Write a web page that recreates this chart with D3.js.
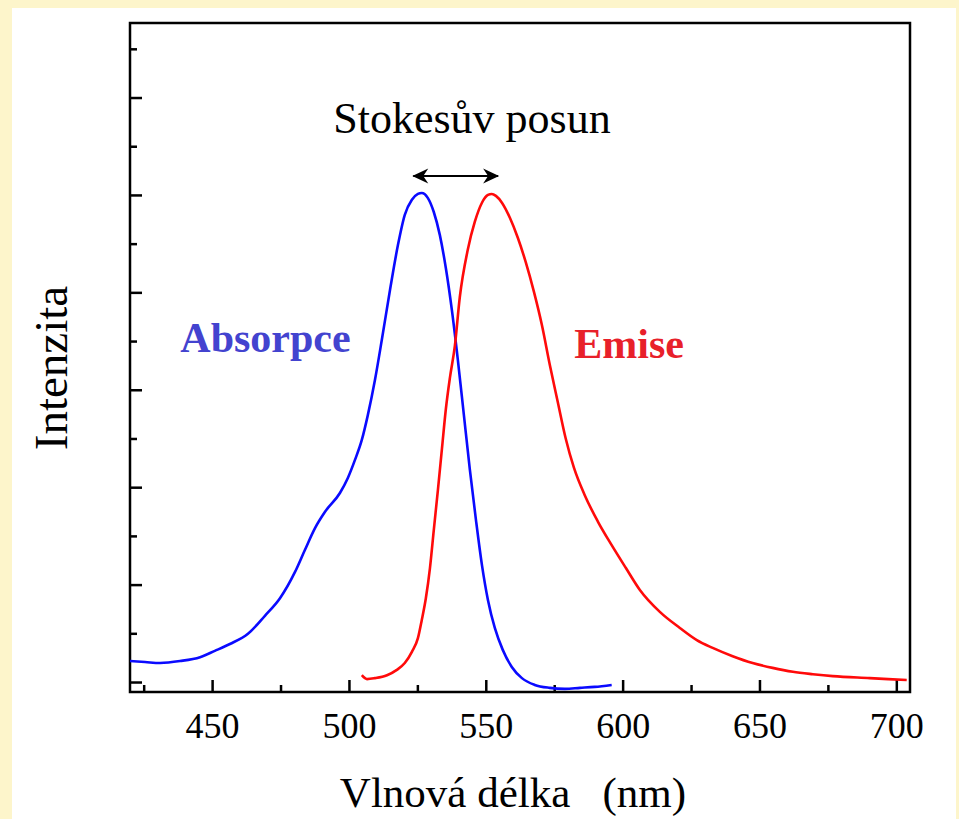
<!DOCTYPE html>
<html>
<head>
<meta charset="utf-8">
<script src="https://cdn.jsdelivr.net/npm/d3@7"></script>
<style>
  html, body { margin: 0; padding: 0; background: #fdf5cb; }
  svg { display: block; }
  text { font-family: "Liberation Serif", "Times New Roman", serif; }
</style>
</head>
<body>
<div id="chart"></div>
<script>
// Absorpční spektrum (vlnová délka nm, relativní intenzita)
var absorpceNm = [420.0, 425.5, 431.0, 438.3, 445.6, 451.0, 456.5, 463.1, 469.3, 474.8, 480.3, 483.9, 487.6, 491.2, 496.7, 499.6, 502.2, 504.7, 506.9, 509.5, 512.0, 515.0, 517.9, 520.4, 523.0, 525.2, 526.6, 528.8, 531.0, 533.2, 535.4, 537.6, 539.8, 542.0, 544.2, 546.4, 548.6, 550.8, 553.3, 556.2, 559.5, 563.2, 567.9, 573.4, 578.9, 584.4, 589.8, 596.0];
var absorpceI  = [0.043, 0.041, 0.039, 0.043, 0.051, 0.064, 0.078, 0.099, 0.136, 0.172, 0.226, 0.271, 0.316, 0.349, 0.388, 0.419, 0.456, 0.497, 0.548, 0.620, 0.702, 0.805, 0.897, 0.959, 0.990, 1.002, 1.004, 0.994, 0.965, 0.918, 0.850, 0.764, 0.661, 0.548, 0.435, 0.333, 0.240, 0.168, 0.111, 0.066, 0.031, 0.008, -0.006, -0.012, -0.014, -0.012, -0.010, -0.006];

// Emisní spektrum
var emiseNm = [504.7, 506.6, 509.5, 513.9, 517.5, 520.4, 523.0, 525.2, 526.6, 528.1, 529.6, 531.0, 532.5, 534.0, 535.4, 536.9, 538.7, 540.5, 543.4, 546.0, 548.6, 550.8, 552.2, 553.7, 555.9, 558.8, 561.7, 564.6, 567.6, 570.5, 573.4, 576.3, 579.2, 582.2, 586.2, 590.9, 596.0, 601.2, 606.3, 613.6, 620.9, 627.1, 632.9, 640.2, 647.5, 654.8, 662.2, 669.5, 676.8, 690.3, 703.8];
var emiseI  = [0.014, 0.006, 0.008, 0.014, 0.025, 0.039, 0.062, 0.090, 0.127, 0.172, 0.234, 0.312, 0.394, 0.480, 0.560, 0.625, 0.690, 0.790, 0.887, 0.945, 0.984, 1.000, 1.002, 0.998, 0.984, 0.953, 0.912, 0.862, 0.801, 0.733, 0.651, 0.575, 0.500, 0.440, 0.383, 0.330, 0.281, 0.234, 0.189, 0.144, 0.111, 0.086, 0.070, 0.053, 0.039, 0.029, 0.021, 0.016, 0.012, 0.008, 0.004];

// Popisky os a ticky
var xMajorTicks = [450, 500, 550, 600, 650, 700];
var xMinorTicks = [425, 475, 525, 575, 625, 675];
var yMajorTicks = [0, 0.2, 0.4, 0.6, 0.8, 1.0, 1.2];
var yMinorTicks = [0.1, 0.3, 0.5, 0.7, 0.9, 1.1, 1.3];
var stokesPosun = [523.5, 554.5];   // rozsah šipky (nm)
var stokesVyska = 1.039;

var W = 959, H = 819;
var margin = { top: 23, right: 49, bottom: 127, left: 130 };
var w = W - margin.left - margin.right,
    h = H - margin.top - margin.bottom;

var svg = d3.select("#chart").append("svg")
    .attr("width", W)
    .attr("height", H);

// bílé pozadí panelu
svg.append("rect")
    .attr("x", 12).attr("y", 8)
    .attr("width", 944).attr("height", H - 8)
    .attr("fill", "#ffffff");

var defs = svg.append("defs");
["arrEnd", "arrStart"].forEach(function(id) {
    defs.append("marker")
        .attr("id", id)
        .attr("viewBox", "-16 -8 18 16")
        .attr("refX", 0).attr("refY", 0)
        .attr("markerWidth", 18).attr("markerHeight", 16)
        .attr("markerUnits", "userSpaceOnUse")
        .attr("orient", "auto-start-reverse")
        .append("path")
        .attr("d", "M1,0 L-15,-7.5 L-10,0 L-15,7.5 Z")
        .attr("fill", "#000");
});

var g = svg.append("g")
    .attr("transform", `translate(${margin.left},${margin.top})`);

var x = d3.scaleLinear().domain([420, 705]).range([0, w]);
var y = d3.scaleLinear().domain([-0.0205, 1.353]).range([h, 0]);

// Osy – ticky směřují dovnitř
function styleAxis(sel) {
    sel.select(".domain").remove();
    sel.selectAll(".tick line").attr("stroke", "#000").attr("stroke-width", 2.5);
}

g.append("g")
    .attr("transform", `translate(0,${h})`)
    .call(d3.axisBottom(x).tickValues(xMajorTicks).tickSize(-12).tickPadding(20).tickFormat(d3.format("d")))
    .call(styleAxis)
    .selectAll("text")
    .attr("font-family", "Liberation Serif")
    .attr("font-size", 36)
    .attr("fill", "#000");

g.append("g")
    .attr("transform", `translate(0,${h})`)
    .call(d3.axisBottom(x).tickValues(xMinorTicks).tickSize(-7).tickFormat(""))
    .call(styleAxis);

g.append("g")
    .call(d3.axisLeft(y).tickValues(yMajorTicks).tickSize(-12).tickFormat(""))
    .call(styleAxis);

g.append("g")
    .call(d3.axisLeft(y).tickValues(yMinorTicks).tickSize(-7).tickFormat(""))
    .call(styleAxis);

// rámeček grafu
g.append("rect")
    .attr("x", 0).attr("y", 0)
    .attr("width", w).attr("height", h)
    .attr("fill", "none")
    .attr("stroke", "#000")
    .attr("stroke-width", 2.5);

// Křivky
var line = d3.line()
    .x(d => x(d[0]))
    .y(d => y(d[1]))
    .curve(d3.curveMonotoneX);

g.append("path")
    .datum(d3.zip(absorpceNm, absorpceI))
    .attr("d", line)
    .attr("fill", "none")
    .attr("stroke", "#0a0aff")
    .attr("stroke-width", 2.6);

g.append("path")
    .datum(d3.zip(emiseNm, emiseI))
    .attr("d", line)
    .attr("fill", "none")
    .attr("stroke", "#ff0a0a")
    .attr("stroke-width", 2.6);

// Šipka Stokesova posunu
g.append("line")
    .attr("x1", x(stokesPosun[0])).attr("x2", x(stokesPosun[1]))
    .attr("y1", y(stokesVyska)).attr("y2", y(stokesVyska))
    .attr("stroke", "#000")
    .attr("stroke-width", 2)
    .attr("marker-start", "url(#arrStart)")
    .attr("marker-end", "url(#arrEnd)");

g.append("text")
    .attr("x", 342)
    .attr("y", 110)
    .attr("text-anchor", "middle")
    .attr("font-size", 44)
    .attr("fill", "#000")
    .text("Stokesův posun");

g.append("text")
    .attr("x", x(469.5))
    .attr("y", 329)
    .attr("text-anchor", "middle")
    .attr("font-size", 42)
    .attr("font-weight", "bold")
    .attr("fill", "#4343cf")
    .text("Absorpce");

g.append("text")
    .attr("x", x(602.4))
    .attr("y", 335)
    .attr("text-anchor", "middle")
    .attr("font-size", 42)
    .attr("font-weight", "bold")
    .attr("fill", "#e8202a")
    .text("Emise");

// Názvy os
svg.append("text")
    .attr("x", 513)
    .attr("y", 807)
    .attr("text-anchor", "middle")
    .attr("font-size", 43)
    .attr("fill", "#000")
    .style("white-space", "pre")
    .text("Vlnová délka   (nm)");

svg.append("text")
    .attr("transform", "translate(67,368) rotate(-90)")
    .attr("text-anchor", "middle")
    .attr("font-size", 47)
    .attr("fill", "#000")
    .text("Intenzita");
</script>
</body>
</html>
